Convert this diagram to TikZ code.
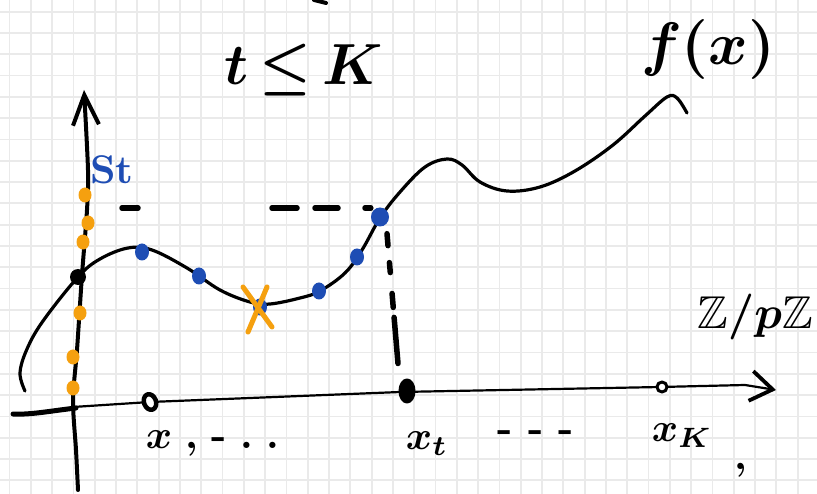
\documentclass[tikz,border=0pt]{standalone}
\usepackage{amsmath,amssymb}
\usetikzlibrary{arrows.meta,shapes.geometric}
\definecolor{penblue}{HTML}{1E4DB4}
\definecolor{penorange}{HTML}{F5A00F}
\definecolor{gridgray}{HTML}{EAEAEA}

\begin{document}
\begin{tikzpicture}[x=1pt, y=-1pt, line cap=round, line join=round,
	every node/.style={inner sep=0pt, font=\boldmath},
	pen/.style={line width=3.2pt},
	bluedot/.style={ellipse, fill=penblue, minimum width=14pt, minimum height=17pt},
	orangedot/.style={ellipse, fill=penorange, minimum width=13pt, minimum height=15pt},
	lab/.style={scale=4}]
	\useasboundingbox (0,0) rectangle (817,494);
	\fill[white] (0,0) rectangle (817,494);
	\foreach \i in {0,...,37} {\draw[gridgray, line width=1.8pt] ({9.5+21.3*\i},0) -- ({9.5+21.3*\i},494);}
	\foreach \j in {0,...,22} {\draw[gridgray, line width=1.8pt] (0,{11.7+21.3*\j}) -- (817,{11.7+21.3*\j});}
	% axes
	\draw[line width=5pt] (13,414) .. controls (30,415) and (50,411) .. (76,408);
	\draw[line width=2.2pt, -{Straight Barb[length=22pt, width=30pt, line width=3.8pt]}] (73,407) -- (150,402) -- (400,392) -- (660,387) -- (745,385) -- (776,390);
	\draw[line width=4pt, -{Straight Barb[length=30pt, width=26pt]}] plot[smooth] coordinates {(78,490) (76,450) (73,400) (77,350) (82,275) (87,210) (88,170) (84,90)};
	% f(x)
	\draw[pen] plot[smooth, tension=0.6] coordinates {(25,391) (20,373) (27,349) (43,321) (78,277) (100,259) (128,248) (152,250) (187,268) (220,290) (250,302) (270,304) (300,298) (320,291) (345,273) (362,250) (380,218) (400,192) (425,167) (447,159) (462,165) (480,182) (507,191) (540,187) (575,171) (613,145) (645,116) (667,97) (677,98) (687,113)};
	\draw[pen, line width=4pt] (314,0) -- (326,3);
	\node[scale=5.8] (cond) at (304,70) {$t\,{\leq}\,K$};
	\node[scale=6] (fx) at (708,50) {$f(x)$};
	\node[scale=4.6] (zp) at (755,317) {$\mathbb{Z}/p\mathbb{Z}$};
	\node[lab, text=penblue] (stlab) at (112,170) {\bfseries St};
	% points on the curve
	\node[circle, fill=black, minimum size=16pt] (y0) at (78,277) {};
	\foreach \n/\x/\y in {d1/142/252, d2/199/276, d3/260/307, d4/319/291, d5/357/257} {\node[bluedot] (\n) at (\x,\y) {};}
	\node[bluedot, minimum width=18pt, minimum height=19pt] (st) at (380,217) {};
	\foreach \n/\x/\y in {o1/85/195, o2/88/223, o3/83/242, o4/80/313, o5/73/357, o6/73/388} {\node[orangedot] (\n) at (\x,\y) {};}
	\draw[penorange, line width=5pt] ([shift={(-17,-20)}]d3.center) -- ++(29,40);
	\draw[penorange, line width=5pt] ([shift={(7,-20)}]d3.center) -- ++(-19,45);
	% points on the axis
	\node[draw, fill=white, ellipse, line width=4.5pt, minimum width=12pt, minimum height=16pt, rotate=20] (x1) at (150,402) {};
	\node[draw, fill=black, ellipse, line width=3pt, minimum width=14pt, minimum height=22pt] (xt) at (407,391) {};
	\node[draw, fill=white, circle, line width=3pt, minimum size=10pt] (xK) at (662,387) {};
	\node[lab, anchor=west] (l1) at (145,443) {$x$\ \textbf{,}\ \textbf{-}\ \textbf{.}\ \textbf{.}};
	\node[lab] (lt) at (427,444) {$x_t$};
	\node[lab] (ldots) at (536,436) {\textbf{-\ -\ -}};
	\node[lab] (lK) at (682,436) {$x_K$};
	\node[lab] (comma) at (741,470) {\textbf{,}};
	% dashed guides
	\coordinate (hd) at (122,208);
	\draw[line width=5.5pt, dash pattern=on 16pt off 134pt on 25pt off 18pt on 23pt off 27pt on 12pt off 20pt] (hd) -- (hd -| st.west);
	\draw[line width=5.5pt, dash pattern=on 12pt off 17pt on 10pt off 21pt on 14pt off 10pt on 49pt off 20pt] ([shift={(7,7)}]st.south) -- ([shift={(-9,-15)}]xt.north);
\end{tikzpicture}
\end{document}
